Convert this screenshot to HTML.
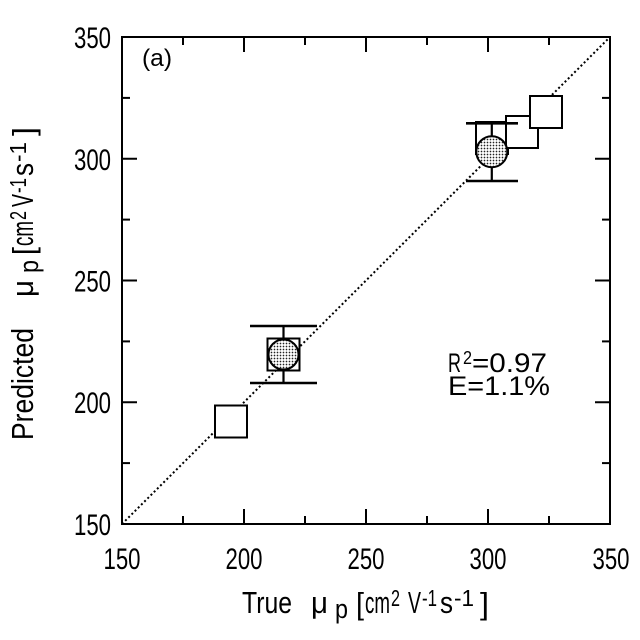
<!DOCTYPE html>
<html><head><meta charset="utf-8"><style>
html,body{margin:0;padding:0;background:#fff;}
svg{display:block;}
text{font-family:"Liberation Sans","Noto Sans CJK JP",sans-serif;fill:#000;}
</style></head><body>
<svg width="640" height="640" viewBox="0 0 640 640" xmlns="http://www.w3.org/2000/svg">
<defs>
<pattern id="dots" width="3" height="3" patternUnits="userSpaceOnUse">
<rect width="3" height="3" fill="#fff"/>
<circle cx="1.5" cy="1.5" r="0.85" fill="#222"/>
</pattern>
</defs>
<rect width="640" height="640" fill="#fff"/>
<!-- diagonal -->
<line x1="122" y1="524" x2="610" y2="37" stroke="#000" stroke-width="2" stroke-dasharray="2 2.5"/>
<!-- frame -->
<rect x="122" y="37" width="488" height="487" fill="none" stroke="#000" stroke-width="2"/>
<g stroke="#000" stroke-width="2">
<line x1="244" y1="524" x2="244" y2="509"/><line x1="366" y1="524" x2="366" y2="509"/><line x1="488" y1="524" x2="488" y2="509"/>
<line x1="183" y1="524" x2="183" y2="516"/><line x1="305" y1="524" x2="305" y2="516"/><line x1="427" y1="524" x2="427" y2="516"/><line x1="549" y1="524" x2="549" y2="516"/>
<line x1="244" y1="37" x2="244" y2="52"/><line x1="366" y1="37" x2="366" y2="52"/><line x1="488" y1="37" x2="488" y2="52"/>
<line x1="183" y1="37" x2="183" y2="45"/><line x1="305" y1="37" x2="305" y2="45"/><line x1="427" y1="37" x2="427" y2="45"/><line x1="549" y1="37" x2="549" y2="45"/>
<line x1="122" y1="402.25" x2="137" y2="402.25"/><line x1="122" y1="280.5" x2="137" y2="280.5"/><line x1="122" y1="158.75" x2="137" y2="158.75"/>
<line x1="122" y1="463.1" x2="130" y2="463.1"/><line x1="122" y1="341.4" x2="130" y2="341.4"/><line x1="122" y1="219.6" x2="130" y2="219.6"/><line x1="122" y1="97.9" x2="130" y2="97.9"/>
<line x1="610" y1="402.25" x2="595" y2="402.25"/><line x1="610" y1="280.5" x2="595" y2="280.5"/><line x1="610" y1="158.75" x2="595" y2="158.75"/>
<line x1="610" y1="463.1" x2="602" y2="463.1"/><line x1="610" y1="341.4" x2="602" y2="341.4"/><line x1="610" y1="219.6" x2="602" y2="219.6"/><line x1="610" y1="97.9" x2="602" y2="97.9"/>
</g>

<!-- markers -->
<g stroke="#000" stroke-width="2">
<rect x="215" y="405.5" width="32" height="32" fill="#fff"/>
<line x1="283.5" y1="326" x2="283.5" y2="383" stroke-width="2.2"/>
<line x1="250" y1="326" x2="317" y2="326" stroke-width="2.6"/>
<line x1="250" y1="383" x2="317" y2="383" stroke-width="2.6"/>
<rect x="267.5" y="338.5" width="32" height="32" fill="#fff"/>
<circle cx="283.5" cy="354.5" r="15" fill="url(#dots)"/>
<rect x="476" y="122" width="32" height="32" fill="#fff"/>
<rect x="506" y="116" width="32" height="32" fill="#fff"/>
<rect x="530" y="96" width="32" height="32" fill="#fff"/>
<line x1="491.8" y1="123.3" x2="491.8" y2="181" stroke-width="2.2"/>
<line x1="466" y1="123.3" x2="518" y2="123.3" stroke-width="2.6"/>
<line x1="466" y1="181" x2="518" y2="181" stroke-width="2.6"/>
<circle cx="491.8" cy="151.7" r="15.5" fill="url(#dots)"/>
</g>

<!-- panel label -->
<text x="142" y="66" font-size="24" textLength="30" lengthAdjust="spacingAndGlyphs">(a)</text>

<!-- stats -->
<text x="448" y="372" font-size="27" textLength="13" lengthAdjust="spacingAndGlyphs">R</text>
<text x="463" y="364" font-size="18" textLength="9" lengthAdjust="spacingAndGlyphs">2</text>
<text x="472" y="372" font-size="27" textLength="75" lengthAdjust="spacingAndGlyphs">=0.97</text>
<text x="448" y="395" font-size="27" textLength="102" lengthAdjust="spacingAndGlyphs">E=1.1%</text>

<!-- tick labels -->
<g font-size="30">
<text x="74" y="48" textLength="37" lengthAdjust="spacingAndGlyphs">350</text>
<text x="74" y="170" textLength="37" lengthAdjust="spacingAndGlyphs">300</text>
<text x="74" y="291.5" textLength="37" lengthAdjust="spacingAndGlyphs">250</text>
<text x="74" y="413" textLength="37" lengthAdjust="spacingAndGlyphs">200</text>
<text x="74" y="535" textLength="37" lengthAdjust="spacingAndGlyphs">150</text>
<text x="103.5" y="569" textLength="37" lengthAdjust="spacingAndGlyphs">150</text>
<text x="225.5" y="569" textLength="37" lengthAdjust="spacingAndGlyphs">200</text>
<text x="347.5" y="569" textLength="37" lengthAdjust="spacingAndGlyphs">250</text>
<text x="469.5" y="569" textLength="37" lengthAdjust="spacingAndGlyphs">300</text>
<text x="592.5" y="569" textLength="37" lengthAdjust="spacingAndGlyphs">350</text>
</g>

<!-- x title -->
<g transform="translate(242,613)">
<text x="0" y="0" font-size="31" textLength="50" lengthAdjust="spacingAndGlyphs">True</text>
<text x="69" y="0" font-size="31" textLength="17" lengthAdjust="spacingAndGlyphs">μ</text>
<text x="93" y="5" font-size="27" textLength="13" lengthAdjust="spacingAndGlyphs">p</text>
<text x="114" y="1" font-size="31" textLength="8" lengthAdjust="spacingAndGlyphs">[</text>
<text x="123" y="0" font-size="31" textLength="25" lengthAdjust="spacingAndGlyphs">cm</text>
<text x="149" y="-7" font-size="23" textLength="9" lengthAdjust="spacingAndGlyphs">2</text>
<text x="166" y="0" font-size="31" textLength="13" lengthAdjust="spacingAndGlyphs">V</text>
<text x="180" y="-7" font-size="23" textLength="15" lengthAdjust="spacingAndGlyphs">-1</text>
<text x="198" y="0" font-size="31" textLength="13" lengthAdjust="spacingAndGlyphs">s</text>
<text x="212" y="-7" font-size="23" textLength="20" lengthAdjust="spacingAndGlyphs">-1</text>
<text x="238" y="1" font-size="31" textLength="9" lengthAdjust="spacingAndGlyphs">]</text>
</g>

<!-- y title -->
<g transform="translate(33,440) rotate(-90)">
<text x="0" y="0" font-size="31" textLength="112" lengthAdjust="spacingAndGlyphs">Predicted</text>
<text x="143" y="0" font-size="31" textLength="17" lengthAdjust="spacingAndGlyphs">μ</text>
<text x="167" y="5" font-size="27" textLength="13" lengthAdjust="spacingAndGlyphs">p</text>
<text x="185" y="1" font-size="31" textLength="8" lengthAdjust="spacingAndGlyphs">[</text>
<text x="194" y="0" font-size="31" textLength="25" lengthAdjust="spacingAndGlyphs">cm</text>
<text x="220" y="-7" font-size="23" textLength="9" lengthAdjust="spacingAndGlyphs">2</text>
<text x="233" y="0" font-size="31" textLength="13" lengthAdjust="spacingAndGlyphs">V</text>
<text x="247" y="-7" font-size="23" textLength="15" lengthAdjust="spacingAndGlyphs">-1</text>
<text x="264" y="0" font-size="31" textLength="13" lengthAdjust="spacingAndGlyphs">s</text>
<text x="278" y="-7" font-size="23" textLength="20" lengthAdjust="spacingAndGlyphs">-1</text>
<text x="304" y="1" font-size="31" textLength="9" lengthAdjust="spacingAndGlyphs">]</text>
</g>
</svg>
</body></html>
